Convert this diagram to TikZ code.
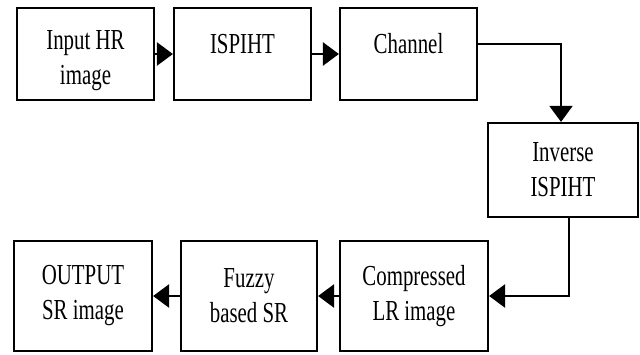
\documentclass[tikz,border=0pt]{standalone}
\usepackage{fontspec}
\setmainfont{Liberation Serif}[FakeStretch=0.72]
\usetikzlibrary{arrows.meta}
\newcommand\toppad{\rule{0pt}{33pt}}
\tikzset{
  blk/.style={draw,line width=2.2pt,minimum height=92pt,align=center,
    font=\fontsize{29}{35}\selectfont},
  toprow/.style={blk,minimum width=137pt},
  flow/.style={line width=2.8pt,-{Triangle[length=16pt,width=23pt]}}
}
\begin{document}
\begin{tikzpicture}[x=1pt,y=-1pt]
  \useasboundingbox (0,0) rectangle (640,354);
  % top row
  \node[toprow] (inp) at (85.5,54) {\toppad Input HR\\image};
  \node[toprow] (isp) at (242.5,54) {\toppad ISPIHT\\\mbox{}};
  \node[toprow] (chan) at (408.5,54) {\toppad Channel\\\mbox{}};
  % right side
  \node[blk,minimum width=150pt,minimum height=94pt] (inv) at (563,170) {Inverse\\ISPIHT};
  % bottom row
  \node[blk,minimum width=148pt,minimum height=110pt] (comp) at (414,296) {Compressed\\LR image};
  \node[blk,minimum width=136pt,minimum height=110pt] (fuz) at (249,296) {Fuzzy\\based SR};
  \node[blk,minimum width=138pt,minimum height=110pt] (out) at (83,296) {OUTPUT\\SR image};

  \draw[flow] (inp) -- (isp);
  \draw[flow] (isp) -- (chan);
  \draw[flow,line width=2pt] ([yshift=10pt]chan.east) -| ([xshift=-2pt]inv.north);
  \draw[flow] ([xshift=6pt]inv.south) |- (comp.east);
  \draw[flow] (comp) -- (fuz);
  \draw[flow] (fuz) -- (out);
\end{tikzpicture}
\end{document}
